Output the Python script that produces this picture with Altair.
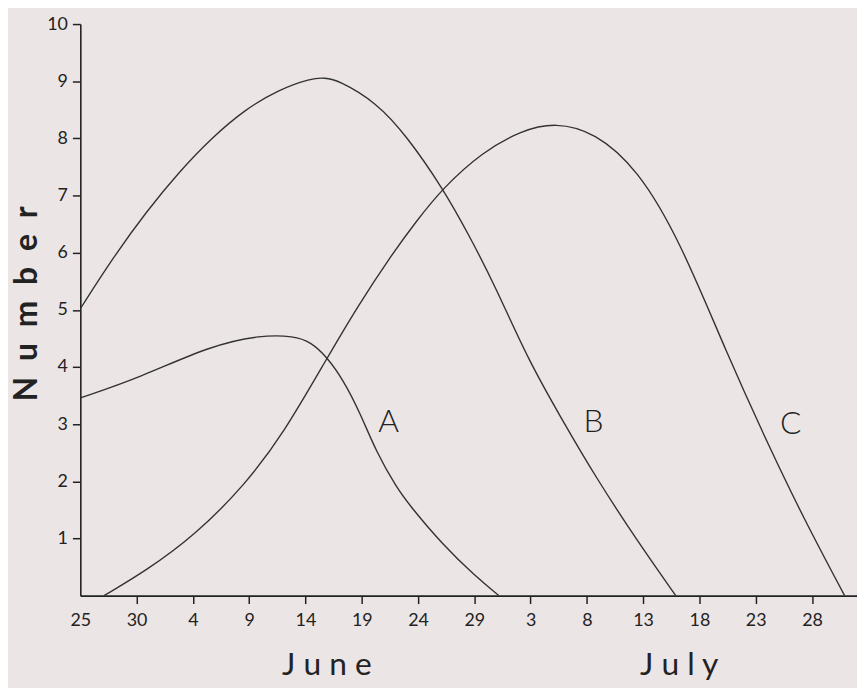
import altair as alt
import pandas as pd

# Days counted from 25 May (day 0)
days_A = [0, 5.2, 11.65, 16.05, 19.0, 20.45, 21.9, 23.4, 24.85, 26.3, 28.1, 29.25, 32.2, 35.1, 37.2]
vals_A = [3.46, 3.81, 4.38, 4.56, 4.54, 4.44, 4.18, 3.76, 3.2, 2.51, 1.89, 1.58, 0.89, 0.34, 0.0]

days_B = [0, 2.93, 5.87, 8.8, 11.73, 14.67, 17.6, 20.5, 21.7, 22.9, 26.3, 28.96, 32.2, 34.5, 36.9, 39.8, 42.8, 45.7, 49.5, 52.9]
vals_B = [5.02, 5.92, 6.72, 7.42, 8.02, 8.51, 8.85, 9.05, 9.06, 9.02, 8.63, 8.05, 7.13, 6.32, 5.4, 4.12, 3.08, 2.1, 0.95, 0.0]

days_C = [2.1, 5.8, 10.2, 14.6, 18.1, 21.9, 24.6, 27.5, 29.84, 32.2, 35.7, 39.2, 42.2, 45.7, 49.5, 53.3, 57.4, 61.3, 64.4, 67.9]
vals_C = [0.0, 0.43, 1.06, 1.93, 2.85, 4.15, 5.05, 5.92, 6.55, 7.13, 7.76, 8.14, 8.28, 8.11, 7.47, 6.2, 4.25, 2.56, 1.3, 0.0]

series_names = ["A", "B", "C"]
label_days = [27.4, 45.6, 63.1]
label_values = [2.86, 2.86, 2.82]

tick_days = [0, 5, 10, 15, 20, 25, 30, 35, 40, 45, 50, 55, 60, 65]
tick_labels = ["25", "30", "4", "9", "14", "19", "24", "29", "3", "8", "13", "18", "23", "28"]
y_ticks = [1, 2, 3, 4, 5, 6, 7, 8, 9, 10]

month_names = ["J u n e", "J u l y"]
month_days = [21.9, 53.2]

rows = []
for name, ds, vs in zip(series_names, [days_A, days_B, days_C], [vals_A, vals_B, vals_C]):
    for d, v in zip(ds, vs):
        rows.append({"series": name, "day": d, "value": v})
df = pd.DataFrame(rows)

labels_df = pd.DataFrame({"label": series_names, "day": label_days, "value": label_values})
months_df = pd.DataFrame({"month": month_names, "day": month_days})

x_scale = alt.Scale(domain=[0, 69], nice=False, zero=False)
y_scale = alt.Scale(domain=[0, 10], nice=False)

label_expr = "[" + ",".join("'%s'" % t for t in tick_labels) + "][round(datum.value/5)]"

ink = "#222222"

lines = alt.Chart(df).mark_line(interpolate="basis", color="#333333", strokeWidth=1.4, clip=True).encode(
    x=alt.X("day:Q", scale=x_scale, axis=alt.Axis(
        values=tick_days, labelExpr=label_expr, title=None, grid=False, labelFlush=False,
        tickSize=8, tickWidth=1.5,
        tickColor={"condition": {"test": "datum.value === 0", "value": "transparent"}, "value": ink},
        domainColor=ink, domainWidth=1.6, labelFontSize=18, labelColor=ink,
        labelPadding=8, labelFont="Lato")),
    y=alt.Y("value:Q", scale=y_scale, axis=alt.Axis(
        values=y_ticks, format="d", title="N\u2002u\u2002m\u2002b\u2002e\u2002r", grid=False,
        tickSize=8, tickWidth=1.5, tickColor=ink, domainColor=ink, domainWidth=1.6,
        labelFontSize=18, labelColor=ink, labelPadding=5, labelFont="Lato",
        titleFontSize=32, titleFontWeight="bold", titleColor=ink, titleFont="Lato",
        titleAngle=270, titleAlign="center", titleBaseline="alphabetic",
        titleX=-44, titleY=282)),
    detail="series:N",
)

letters = alt.Chart(labels_df).mark_text(
    fontSize=32, font="Lato", fontWeight=300, color=ink, baseline="alphabetic", align="center"
).encode(
    x=alt.X("day:Q", scale=x_scale),
    y=alt.Y("value:Q", scale=y_scale),
    text="label:N",
)

months = alt.Chart(months_df).mark_text(
    fontSize=32, font="Lato", color=ink, baseline="alphabetic", align="center"
).encode(
    x=alt.X("day:Q", scale=x_scale),
    y=alt.value(657),
    text="month:N",
)

chart = alt.layer(lines, letters, months).properties(
    width=784, height=577,
    autosize=alt.AutoSizeParams(type="none"),
    padding={"left": 73, "top": 13, "right": 0, "bottom": 90},
    background="#ece5e5",
).configure_view(stroke=None)

chart.save("out.html", embed_options={"renderer": "svg", "actions": False})
